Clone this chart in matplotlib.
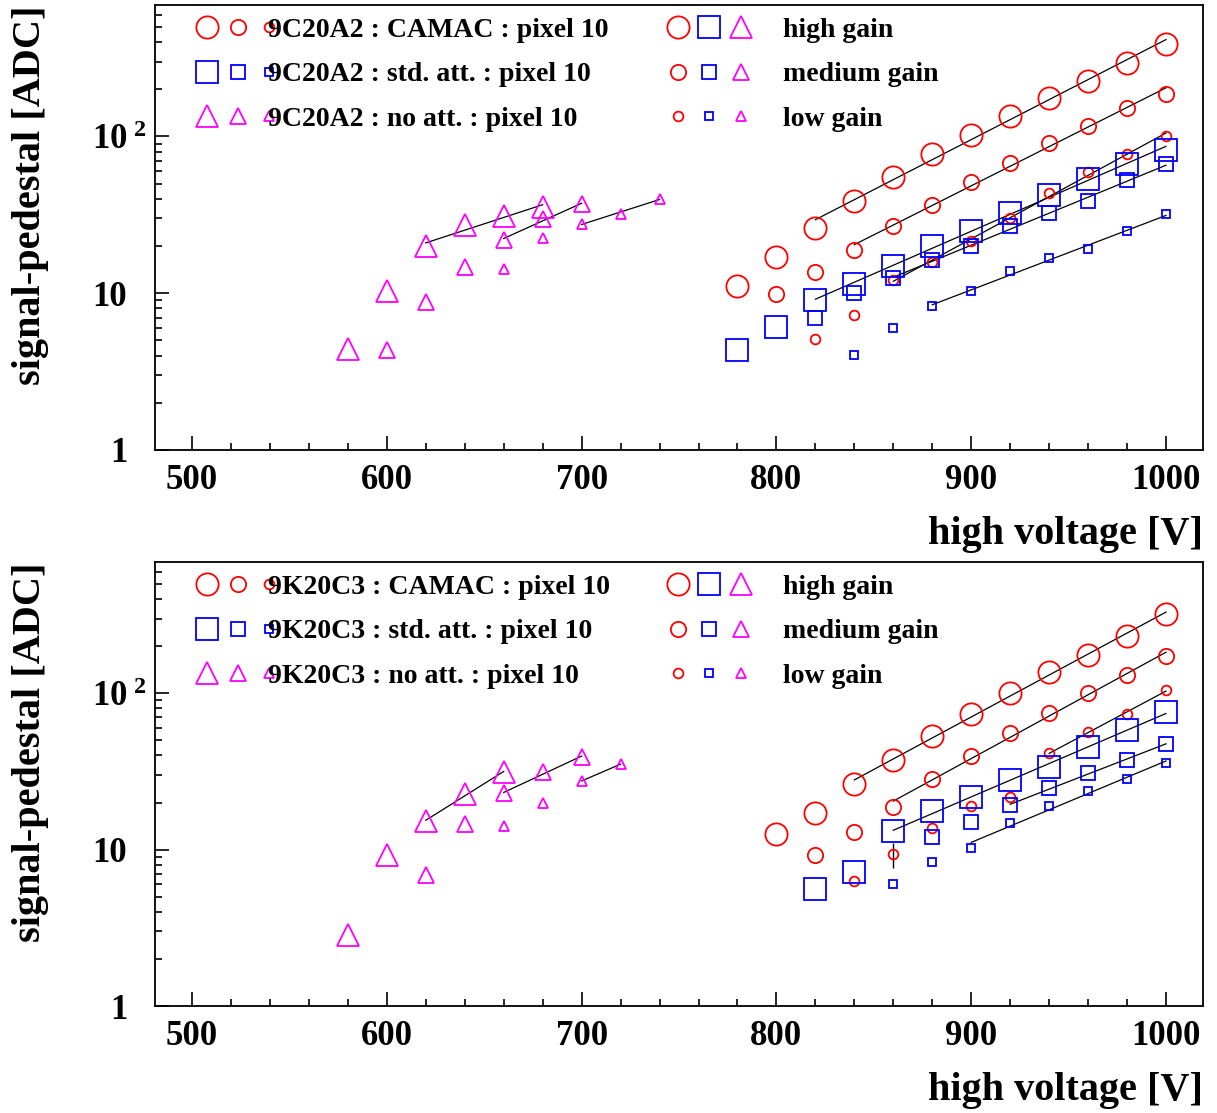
import numpy as np
import matplotlib
matplotlib.use("Agg")
import matplotlib.pyplot as plt
from matplotlib.lines import Line2D
from matplotlib.legend_handler import HandlerTuple
from matplotlib.transforms import ScaledTranslation
from matplotlib.ticker import MultipleLocator, FixedLocator, FixedFormatter, LogLocator, NullFormatter

plt.rcParams['font.family'] = ['Liberation Serif', 'DejaVu Serif']
plt.rcParams['font.weight'] = 'bold'
plt.rcParams['mathtext.fontset'] = 'custom'
plt.rcParams['mathtext.rm'] = 'Liberation Serif:bold'
plt.rcParams['mathtext.it'] = 'Liberation Serif:bold'
plt.rcParams['mathtext.bf'] = 'Liberation Serif:bold'

# ---------------- top panel : 9C20A2 ----------------
top_tube = "9C20A2"
top_camac_high_hv = [780, 800, 820, 840, 860, 880, 900, 920, 940, 960, 980, 1000]
top_camac_high = [11.2, 17.0, 26.2, 38.5, 54.8, 76.8, 102, 136, 177, 227, 296, 391]
top_camac_med_hv = [800, 820, 840, 860, 880, 900, 920, 940, 960, 980, 1000]
top_camac_med = [9.9, 13.7, 19.0, 26.8, 36.6, 51.0, 68.0, 91.0, 116, 153, 188]
top_camac_low_hv = [820, 840, 860, 880, 900, 920, 940, 960, 980, 1000]
top_camac_low = [5.1, 7.3, 12.1, 15.8, 21.6, 30.0, 43.8, 59.0, 77.5, 100]

top_std_high_hv = [780, 800, 820, 840, 860, 880, 900, 920, 940, 960, 980, 1000]
top_std_high = [4.35, 6.1, 9.0, 11.5, 15.0, 19.9, 24.8, 32.5, 42.5, 53.6, 67.0, 82.3]
top_std_med_hv = [820, 840, 860, 880, 900, 920, 940, 960, 980, 1000]
top_std_med = [6.9, 10.0, 12.6, 16.2, 19.9, 26.7, 32.3, 38.5, 52.5, 67.0]
top_std_low_hv = [840, 860, 880, 900, 920, 940, 960, 980, 1000]
top_std_low = [4.05, 6.0, 8.25, 10.4, 13.8, 16.8, 19.2, 24.9, 31.8]

top_noatt_high_hv = [580, 600, 620, 640, 660, 680]
top_noatt_high = [4.44, 10.3, 19.9, 27.1, 30.9, 35.5]
top_noatt_med_hv = [600, 620, 640, 660, 680, 700]
top_noatt_med = [4.33, 8.8, 14.7, 22.0, 29.9, 36.9]
top_noatt_low_hv = [660, 680, 700, 720, 740]
top_noatt_low = [14.2, 22.6, 27.8, 32.2, 40.1]

# fit ranges [V]
top_fit_camac = [(820, 1000), (840, 1000), (860, 1000)]
top_fit_std = [(820, 1000), (860, 1000), (880, 1000)]
top_fit_noatt = [(620, 680), (660, 700), (700, 740)]

# ---------------- bottom panel : 9K20C3 ----------------
bot_tube = "9K20C3"
bot_camac_high_hv = [800, 820, 840, 860, 880, 900, 920, 940, 960, 980, 1000]
bot_camac_high = [12.5, 17.2, 26.3, 37.2, 53.3, 73.5, 101, 136, 175, 234, 322]
bot_camac_med_hv = [820, 840, 860, 880, 900, 920, 940, 960, 980, 1000]
bot_camac_med = [9.3, 12.9, 18.6, 28.4, 39.5, 55.4, 75.0, 100, 131, 172]
bot_camac_low_hv = [840, 860, 880, 900, 920, 940, 960, 980, 1000]
bot_camac_low = [6.3, 9.4, 13.7, 19.0, 21.7, 41.5, 56.3, 74.0, 105]
bot_camac_low_err_lo = [0, 1.8, 0, 0, 0, 0, 0, 0, 0]
bot_camac_low_err_hi = [0, 1.6, 0, 0, 0, 0, 0, 0, 0]

bot_std_high_hv = [820, 840, 860, 880, 900, 920, 940, 960, 980, 1000]
bot_std_high = [5.6, 7.2, 13.1, 17.6, 21.8, 28.0, 34.0, 45.0, 58.5, 75.5]
bot_std_med_hv = [880, 900, 920, 940, 960, 980, 1000]
bot_std_med = [12.1, 15.0, 19.2, 24.8, 30.8, 37.5, 47.5]
bot_std_low_hv = [860, 880, 900, 920, 940, 960, 980, 1000]
bot_std_low = [6.0, 8.3, 10.3, 14.8, 18.9, 23.8, 28.2, 35.8]

bot_noatt_high_hv = [580, 600, 620, 640, 660]
bot_noatt_high = [2.85, 9.2, 15.2, 22.7, 31.2]
bot_noatt_med_hv = [620, 640, 660, 680, 700]
bot_noatt_med = [6.9, 14.5, 22.9, 31.2, 39.1]
bot_noatt_low_hv = [660, 680, 700, 720]
bot_noatt_low = [14.1, 19.9, 27.5, 35.2]

bot_fit_camac = [(840, 1000), (860, 1000), (940, 1000)]
bot_fit_std = [(860, 1000), (920, 1000), (900, 1000)]
bot_fit_noatt = [(620, 660), (660, 700), (700, 720)]

gains = ["high gain", "medium gain", "low gain"]
colors = {"o": "#ff0000", "s": "#0000ff", "^": "#ff00ff"}
msize = {"o": [16.0, 11.0, 7.0], "s": [16.0, 10.5, 6.0], "^": [16.0, 11.0, 6.5]}
MEW = 1.3


def fit_line(ax, hv, val, rng):
    hv = np.asarray(hv, float)
    val = np.asarray(val, float)
    sel = (hv >= rng[0]) & (hv <= rng[1])
    p = np.polyfit(hv[sel], np.log10(val[sel]), 1)
    xx = np.linspace(rng[0], rng[1], 50)
    ax.plot(xx, 10 ** np.polyval(p, xx), color='black', lw=0.9, zorder=3)


def draw_panel(ax, tube, sets):
    for mk, series, fits in sets:
        for i, (hv, val) in enumerate(series):
            ax.plot(hv, val, ls='none', marker=mk, ms=msize[mk][i], mfc='none',
                    mec=colors[mk], mew=MEW, zorder=4)
            fit_line(ax, hv, val, fits[i])

    ax.set_xlim(481, 1019)
    ax.set_yscale('log')
    ax.set_ylim(1, 690)
    ax.xaxis.set_major_locator(MultipleLocator(100))
    ax.xaxis.set_minor_locator(MultipleLocator(20))
    ax.yaxis.set_major_locator(FixedLocator([1, 10, 100]))
    ax.yaxis.set_major_formatter(FixedFormatter(['1', '10', r'$10^{\ 2}$']))
    ax.yaxis.set_minor_locator(LogLocator(base=10, subs=np.arange(2, 10)))
    ax.yaxis.set_minor_formatter(NullFormatter())
    ax.tick_params(which='both', direction='in', top=False, right=False, width=1.2)
    ax.tick_params(which='major', length=10, labelsize=25)
    ax.tick_params(which='minor', length=5)
    ax.tick_params(axis='x', pad=10)
    ax.tick_params(axis='y', pad=20)
    for sp in ax.spines.values():
        sp.set_linewidth(1.3)
    ax.set_xlabel('high voltage [V]', fontsize=29, fontweight='bold', loc='right', labelpad=14)
    ax.set_ylabel('signal-pedestal [ADC]', fontsize=29, fontweight='bold', loc='top', labelpad=31)

    # the 10^2 label sits closer to the axis in the original
    lab = ax.yaxis.get_major_ticks()[2].label1
    lab.set_transform(lab.get_transform() + ScaledTranslation(0.2, 0, ax.figure.dpi_scale_trans))

    # legend 1: readout setups
    h1 = []
    for mk in ["o", "s", "^"]:
        h1.append(tuple(Line2D([], [], ls='none', marker=mk, ms=msize[mk][i], mfc='none',
                               mec=colors[mk], mew=MEW) for i in range(3)))
    labels1 = [tube + " : CAMAC : pixel 10", tube + " : std. att. : pixel 10",
               tube + " : no att. : pixel 10"]
    leg1 = ax.legend(h1, labels1, loc='upper left', bbox_to_anchor=(0.035, 0.972),
                     frameon=False, fontsize=20, handlelength=3.35, handletextpad=-0.59,
                     labelspacing=0.68, borderpad=0, borderaxespad=0,
                     handler_map={tuple: HandlerTuple(ndivide=None, pad=0)})
    ax.add_artist(leg1)

    # legend 2: gain settings
    h2 = []
    for i in range(3):
        h2.append(tuple(Line2D([], [], ls='none', marker=mk, ms=msize[mk][i], mfc='none',
                               mec=colors[mk], mew=MEW) for mk in ["o", "s", "^"]))
    ax.legend(h2, gains, loc='upper left', bbox_to_anchor=(0.484, 0.972),
              frameon=False, fontsize=20, handlelength=3.4, handletextpad=0.95,
              labelspacing=0.68, borderpad=0, borderaxespad=0,
              handler_map={tuple: HandlerTuple(ndivide=None, pad=0)})


fig = plt.figure(figsize=(12.17, 11.13), dpi=100)
ax1 = fig.add_axes([0.1274, 0.5957, 0.8611, 0.3998])
ax2 = fig.add_axes([0.1274, 0.0961, 0.8611, 0.3989])

draw_panel(ax1, top_tube, [
    ("o", [(top_camac_high_hv, top_camac_high), (top_camac_med_hv, top_camac_med),
           (top_camac_low_hv, top_camac_low)], top_fit_camac),
    ("s", [(top_std_high_hv, top_std_high), (top_std_med_hv, top_std_med),
           (top_std_low_hv, top_std_low)], top_fit_std),
    ("^", [(top_noatt_high_hv, top_noatt_high), (top_noatt_med_hv, top_noatt_med),
           (top_noatt_low_hv, top_noatt_low)], top_fit_noatt),
])

draw_panel(ax2, bot_tube, [
    ("o", [(bot_camac_high_hv, bot_camac_high), (bot_camac_med_hv, bot_camac_med),
           (bot_camac_low_hv, bot_camac_low)], bot_fit_camac),
    ("s", [(bot_std_high_hv, bot_std_high), (bot_std_med_hv, bot_std_med),
           (bot_std_low_hv, bot_std_low)], bot_fit_std),
    ("^", [(bot_noatt_high_hv, bot_noatt_high), (bot_noatt_med_hv, bot_noatt_med),
           (bot_noatt_low_hv, bot_noatt_low)], bot_fit_noatt),
])
ax2.errorbar(bot_camac_low_hv, bot_camac_low,
             yerr=[bot_camac_low_err_lo, bot_camac_low_err_hi],
             fmt='none', ecolor='black', elinewidth=1.0, capsize=0, zorder=2)

fig.savefig("out.png", dpi=100)
